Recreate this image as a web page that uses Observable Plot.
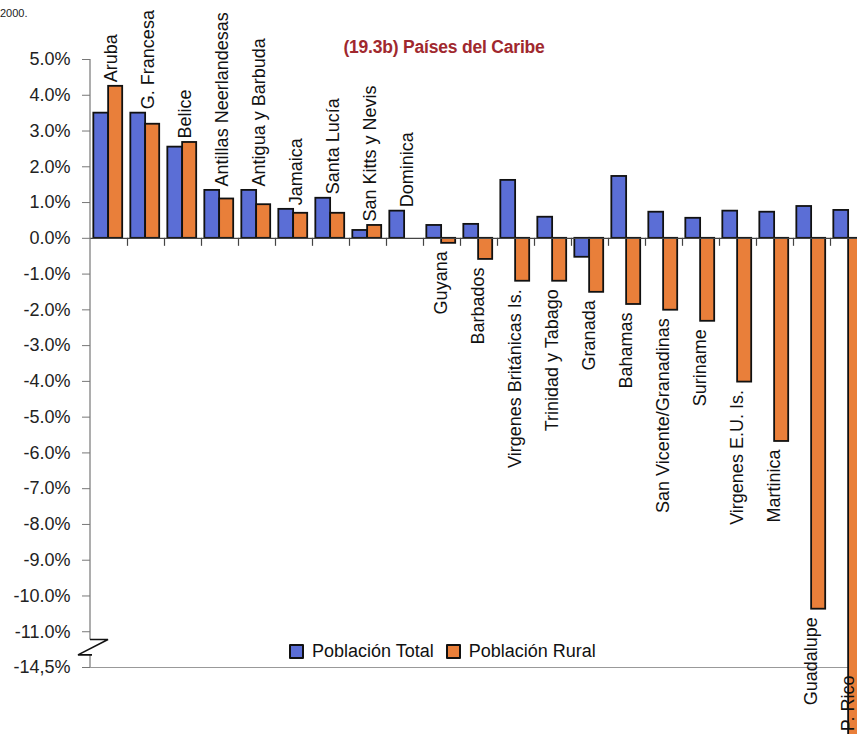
<!DOCTYPE html>
<html>
<head>
<meta charset="utf-8">
<script src="https://cdn.jsdelivr.net/npm/d3@7"></script>
<script src="https://cdn.jsdelivr.net/npm/@observablehq/plot@0.6"></script>
<style>
  html, body { margin: 0; padding: 0; background: #fff; overflow: hidden; }
  #wrap { position: relative; width: 857px; height: 734px; overflow: hidden; font-family: "Liberation Sans", Arial, sans-serif; }
  #chart { position: absolute; left: 0; top: 0; width: 870px; height: 734px; }
  #chart svg { max-width: none !important; }
  #title { position: absolute; left: 444px; top: 37px; transform: translateX(-50%); white-space: nowrap;
           font: bold 17.5px "Liberation Sans", Arial, sans-serif; color: #a0282e; letter-spacing: -0.2px; }
  #note { position: absolute; left: 0; top: 7px; font-size: 11px; color: #222; }
  #legend { position: absolute; left: 284px; top: 639px; background: #fff; padding: 2px 5px; display: flex; align-items: center;
            font-size: 18px; color: #111; white-space: nowrap; }
  #legend .sw { display: inline-block; width: 11px; height: 11px; border: 2px solid #111; border-radius: 1px; margin-right: 8px; }
  #legend .item { display: flex; align-items: center; margin-right: 12px; }
</style>
</head>
<body>
<div id="wrap">
  <div id="chart"></div>
  <div id="note">2000.</div>
  <div id="title"></div>
  <div id="legend"></div>
</div>
<script>
// ---- data ----
const titleText = "(19.3b) Países del Caribe";
const countries = ["Aruba", "G. Francesa", "Belice", "Antillas Neerlandesas", "Antigua y Barbuda", "Jamaica",
  "Santa Lucía", "San Kitts y Nevis", "Dominica", "Guyana", "Barbados", "Virgenes Británicas Is.",
  "Trinidad y Tabago", "Granada", "Bahamas", "San Vicente/Granadinas", "Suriname", "Virgenes E.U. Is.",
  "Martinica", "Guadalupe", "P. Rico"];
const seriesNames = ["Población Total", "Población Rural"];
const totalPop = [3.5, 3.5, 2.55, 1.34, 1.34, 0.81, 1.12, 0.22, 0.76, 0.36, 0.39, 1.62,
  0.59, -0.53, 1.73, 0.73, 0.56, 0.76, 0.73, 0.89, 0.78];
const ruralPop = [4.25, 3.19, 2.68, 1.1, 0.94, 0.7, 0.7, 0.36, 0.0, -0.14, -0.59, -1.2,
  -1.2, -1.51, -1.85, -2.01, -2.32, -4.02, -5.68, -10.37, -21.5];
const yTickValues = [5, 4, 3, 2, 1, 0, -1, -2, -3, -4, -5, -6, -7, -8, -9, -10, -11, -14.5];
const yTickLabels = ["5.0%", "4.0%", "3.0%", "2.0%", "1.0%", "0.0%", "-1.0%", "-2.0%", "-3.0%", "-4.0%",
  "-5.0%", "-6.0%", "-7.0%", "-8.0%", "-9.0%", "-10.0%", "-11.0%", "-14,5%"];
const colors = ["#5b6ed6", "#e97f3a"];

// ---- axis break: values below -11% are compressed (-11 .. -14.5 shown as one unit) ----
const brk = v => (v >= -11 ? v : -11 + (v + 11) / 3.5);
const axisMin = -14.5;

const rows = countries.flatMap((c, i) => [
  {c, i, s: seriesNames[0], v: totalPop[i], x1: i + 0.09, x2: i + 0.49},
  {c, i, s: seriesNames[1], v: ruralPop[i], x1: i + 0.49, x2: i + 0.87}
]);
const labels = countries.map((c, i) => {
  const lo = Math.min(totalPop[i], ruralPop[i]);
  const hi = Math.max(totalPop[i], ruralPop[i]);
  return lo < 0 ? {c, i, neg: true, y: Math.max(lo, axisMin)} : {c, i, neg: false, y: hi};
});
const tickLabelMap = new Map(yTickValues.map((v, k) => [brk(v), yTickLabels[k]]));

// y-axis line with break symbol, derived from the scales
function axisWithBreak(index, scales) {
  const x0 = scales.x(0);
  const yTop = scales.y(brk(yTickValues[0]));
  const y11 = scales.y(brk(-11));
  const yBot = scales.y(brk(axisMin));
  const a = y11 + (yBot - y11) * 0.23;
  const b = y11 + (yBot - y11) * 0.66;
  const g = d3.create("svg:g").attr("fill", "none");
  g.append("path").attr("d", `M${x0},${yTop}V${a}M${x0},${b}V${yBot}`)
    .attr("stroke", "#777").attr("stroke-width", 1.2);
  g.append("path").attr("d", `M${x0},${a}H${x0 + 18}L${x0 - 12},${b}H${x0 + 2}`)
    .attr("stroke", "#111").attr("stroke-width", 1.6);
  return g.node();
}

const chart = Plot.plot({
  width: 870,
  height: 734,
  marginLeft: 90,
  marginRight: 3,
  marginTop: 59,
  marginBottom: 67,
  style: {fontFamily: "'Liberation Sans', Arial, sans-serif", background: "transparent", overflow: "visible", maxWidth: "none"},
  x: {type: "linear", domain: [0, countries.length], axis: null},
  y: {domain: [brk(axisMin), 5], axis: null},
  color: {domain: seriesNames, range: colors},
  marks: [
    Plot.ruleY([brk(axisMin)], {stroke: "#999", strokeWidth: 1.2, insetLeft: -8}),
    Plot.rect(rows, {x1: "x1", x2: "x2", y1: 0, y2: d => brk(d.v), fill: "s", stroke: "#111", strokeWidth: 1.8}),
    Plot.ruleY([0], {stroke: "#444", strokeWidth: 1.3}),
    Plot.ruleX(d3.range(1, countries.length), {y1: 0, y2: 0, insetBottom: -8, stroke: "#444", strokeWidth: 1.2}),
    axisWithBreak,
    Plot.axisY({
      ticks: yTickValues.map(brk),
      tickFormat: d => tickLabelMap.get(d),
      tickSize: 8,
      tickPadding: 12,
      stroke: "#777",
      fill: "#222",
      fontSize: 18,
      label: null
    }),
    Plot.text(labels.filter(d => !d.neg), {
      x: d => d.i + 0.56, y: "y", text: "c", rotate: -90, textAnchor: "start",
      dy: -4, fontSize: 18, fill: "#111"
    }),
    Plot.text(labels.filter(d => d.neg), {
      x: d => d.i + 0.47, y: d => brk(d.y), text: "c", rotate: -90, textAnchor: "end",
      dy: 8, fontSize: 18, fill: "#111"
    })
  ]
});
chart.style.maxWidth = "none";
document.getElementById("chart").appendChild(chart);
document.getElementById("title").textContent = titleText;

const legend = document.getElementById("legend");
seriesNames.forEach((name, k) => {
  const item = document.createElement("span");
  item.className = "item";
  const sw = document.createElement("span");
  sw.className = "sw";
  sw.style.background = colors[k];
  item.appendChild(sw);
  item.appendChild(document.createTextNode(name));
  legend.appendChild(item);
});
</script>
</body>
</html>
